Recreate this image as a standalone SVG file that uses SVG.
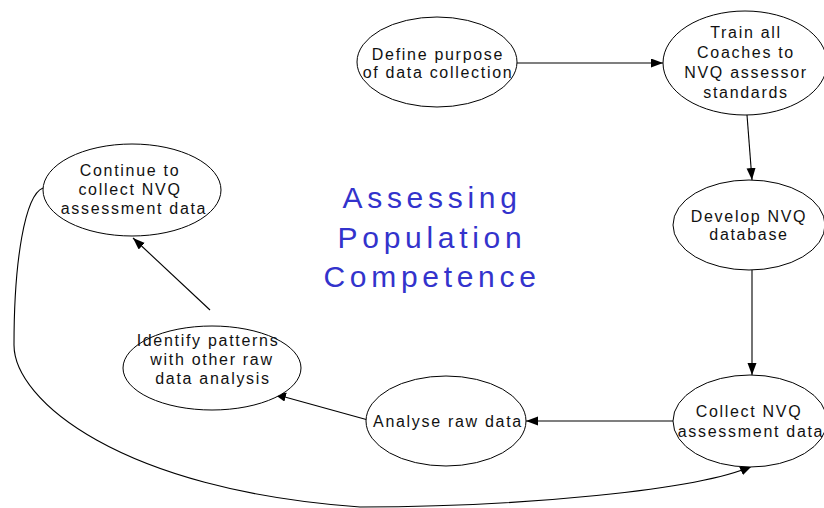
<svg xmlns="http://www.w3.org/2000/svg" width="824" height="508" viewBox="0 0 824 508">
<style>
.node ellipse{fill:#fff;stroke:#000;stroke-width:1}
.node text{font-family:"Liberation Sans",Arial,sans-serif;font-size:16px;letter-spacing:1.7px;text-anchor:middle;fill:#111}
.conn path{fill:none;stroke:#000;stroke-width:1.1}
.title{font-family:"Liberation Sans",Arial,sans-serif;font-size:30px;letter-spacing:4.7px;text-anchor:middle;fill:#3333cc}
</style>
<defs>
<marker id="arr" markerUnits="userSpaceOnUse" markerWidth="13" markerHeight="10" refX="12" refY="4.5" orient="auto">
<path d="M0,0 L12,4.5 L0,9 z" fill="#000"/>
</marker>
</defs>
<rect width="824" height="508" fill="#fff"/>
<g id="connectors" class="conn">
<path d="M517,63 L663,63" marker-end="url(#arr)"/>
<path d="M747,115 L752,180" marker-end="url(#arr)"/>
<path d="M752,270 L752,375" marker-end="url(#arr)"/>
<path d="M673,421 L526,421" marker-end="url(#arr)"/>
<path d="M368,420 L274,394" marker-end="url(#arr)"/>
<path d="M210,310 L133,238" marker-end="url(#arr)"/>
<path d="M43,188 C25,195 14,260 14,345 C14,400 120,490 360,507 C520,507 700,490 752,466" marker-end="url(#arr)"/>
</g>
<g id="define" class="node">
<ellipse cx="437" cy="62" rx="80" ry="45"/>
<text x="438" y="60">Define purpose</text>
<text x="438" y="78">of data collection</text>
</g>
<g id="train" class="node">
<ellipse cx="745" cy="63" rx="82" ry="52"/>
<text x="746" y="38">Train all</text>
<text x="746" y="58">Coaches to</text>
<text x="746" y="78">NVQ assessor</text>
<text x="746" y="98">standards</text>
</g>
<g id="develop" class="node">
<ellipse cx="749" cy="225" rx="76" ry="45"/>
<text x="749" y="222">Develop NVQ</text>
<text x="749" y="240">database</text>
</g>
<g id="collect" class="node">
<ellipse cx="750" cy="421" rx="77" ry="46"/>
<text x="749" y="417">Collect NVQ</text>
<text x="751" y="437">assessment data</text>
</g>
<g id="analyse" class="node">
<ellipse cx="446" cy="421" rx="80" ry="45"/>
<text x="448" y="427">Analyse raw data</text>
</g>
<g id="identify" class="node">
<ellipse cx="212" cy="368" rx="89" ry="42"/>
<text x="208" y="346">Identify patterns</text>
<text x="212" y="365">with other raw</text>
<text x="213" y="384">data analysis</text>
</g>
<g id="continue" class="node">
<ellipse cx="132" cy="190" rx="89" ry="46"/>
<text x="130" y="176">Continue to</text>
<text x="130" y="195">collect NVQ</text>
<text x="134" y="214">assessment data</text>
</g>
<g id="title">
<text class="title" x="432" y="208">Assessing</text>
<text class="title" x="432" y="248">Population</text>
<text class="title" x="432" y="287">Competence</text>
</g>
</svg>
